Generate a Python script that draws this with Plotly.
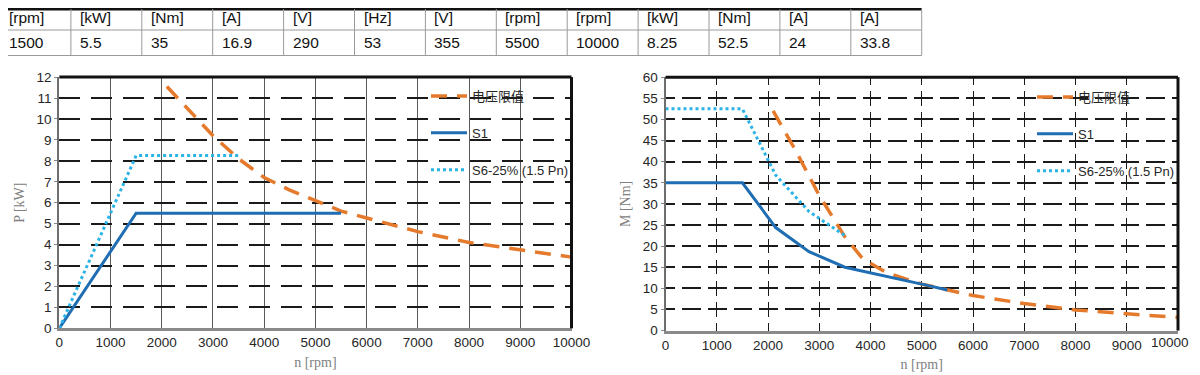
import plotly.graph_objects as go

# ---------------- data ----------------
table_units = ["[rpm]", "[kW]", "[Nm]", "[A]", "[V]", "[Hz]", "[V]",
               "[rpm]", "[rpm]", "[kW]", "[Nm]", "[A]", "[A]"]
table_values = ["1500", "5.5", "35", "16.9", "290", "53", "355",
                "5500", "10000", "8.25", "52.5", "24", "33.8"]

series_names = ["电压限值", "S1", "S6-25% (1.5 Pn)"]

# left chart: power P [kW] vs speed n [rpm]
p_volt_rpm = [2100, 3000, 3500, 4000, 4500, 5000, 5500, 6000, 7000, 8000, 9000, 10000]
p_volt_kw = [11.55, 9.2, 8.1, 7.2, 6.6, 6.08, 5.6, 5.27, 4.62, 4.1, 3.75, 3.4]
p_s1_rpm = [0, 1500, 5500]
p_s1_kw = [0, 5.5, 5.5]
p_s6_rpm = [0, 1500, 3500]
p_s6_kw = [0, 8.25, 8.25]

# right chart: torque M [Nm] vs speed n [rpm]
m_volt_rpm = [2100, 2550, 3000, 3500, 3850, 4300, 5000, 5500, 6000, 7000, 8000, 9000, 10000]
m_volt_nm = [52.0, 42.4, 32.0, 22.2, 17.0, 13.8, 11.0, 9.6, 8.3, 6.4, 4.9, 4.0, 3.1]
m_s1_rpm = [0, 1500, 2150, 2800, 3500, 4000, 4500, 5000, 5500]
m_s1_nm = [35, 35, 24.4, 18.7, 15.0, 13.7, 12.3, 11.0, 9.6]
m_s6_rpm = [0, 1500, 2150, 2800, 3500]
m_s6_nm = [52.5, 52.5, 36.8, 28.2, 22.5]

x_tickvals = list(range(0, 10001, 1000))
x_ticktext = [str(v) for v in x_tickvals]
p_tickvals = list(range(0, 13, 1))
m_tickvals = list(range(0, 61, 5))

# ---------------- styles ----------------
# the page body has an 8px default margin: size the figure so it ends at the window edge
OFF = 8
W, H = 1200 - OFF, 375 - OFF
ORANGE = "#E57A2C"
BLUE = "#1F6DB2"
LIGHT = "#2AB3E6"
SANS = "Liberation Sans, Arial, Noto Sans CJK SC, sans-serif"
SERIF = "Liberation Serif, DejaVu Serif, serif"

def px_x(v):
    return (v - OFF) / W

def px_y(v):
    return 1 - (v - OFF) / H

fig = go.Figure()

styles = [
    dict(color=ORANGE, width=3.5, dash="16px,10px"),
    dict(color=BLUE, width=3, dash="solid"),
    dict(color=LIGHT, width=3, dash="dot"),
]

left_sets = [(p_volt_rpm, p_volt_kw), (p_s1_rpm, p_s1_kw), (p_s6_rpm, p_s6_kw)]
right_sets = [(m_volt_rpm, m_volt_nm), (m_s1_rpm, m_s1_nm), (m_s6_rpm, m_s6_nm)]

for i, (xs, ys) in enumerate(left_sets):
    fig.add_trace(go.Scatter(
        x=xs, y=ys, mode="lines", name=series_names[i], line=styles[i],
        xaxis="x", yaxis="y", legend="legend", legendgroup="L%d" % i,
        hoverinfo="skip"))
for i, (xs, ys) in enumerate(right_sets):
    fig.add_trace(go.Scatter(
        x=xs, y=ys, mode="lines", name=series_names[i], line=styles[i],
        xaxis="x2", yaxis="y2", legend="legend2", legendgroup="R%d" % i,
        hoverinfo="skip"))

# plot area domains (pixel derived, in window pixels)
L_X = [px_x(59.3), px_x(571.5)]
R_X = [px_x(665.5), px_x(1178)]
L_Y = [px_y(328.3), px_y(77.1)]
R_Y = [px_y(330.6), px_y(77.2)]

tickfont = dict(family=SANS, size=13.5, color="#262626")
titlefont = dict(family=SERIF, size=14, color="#808080")

def xaxis(domain, anchor, griddash, gridcolor, ticktext):
    return dict(domain=domain, anchor=anchor, range=[0, 10000], automargin=False,
                tickmode="array", tickvals=x_tickvals, ticktext=ticktext,
                showgrid=True, gridcolor=gridcolor, gridwidth=1.3, griddash=griddash,
                zeroline=False, showline=True, linecolor="#8a8a8a", linewidth=2.5,
                ticks="", tickfont=tickfont,
                title=dict(text="n [rpm]", font=titlefont, standoff=8))

def yaxis(domain, anchor, rng, vals, title, griddash):
    return dict(domain=domain, anchor=anchor, range=rng, automargin=False,
                tickmode="array", tickvals=vals, ticktext=[str(v) for v in vals],
                showgrid=True, gridcolor="#1a1a1a", gridwidth=1.5, griddash=griddash,
                zeroline=False, showline=True, linecolor="#6e6e6e", linewidth=2,
                ticks="outside", ticklen=3, tickcolor="#8a8a8a", tickwidth=1,
                tickfont=tickfont,
                title=dict(text=title, font=titlefont, standoff=9))

shapes = []
# white boxes behind legends (cover gridlines)
shapes.append(dict(type="rect", xref="paper", yref="paper", layer="between",
                   x0=px_x(416), x1=px_x(571), y0=px_y(188), y1=px_y(78),
                   fillcolor="white", line=dict(width=0)))
shapes.append(dict(type="rect", xref="paper", yref="paper", layer="between",
                   x0=px_x(1021), x1=px_x(1177), y0=px_y(190), y1=px_y(78),
                   fillcolor="white", line=dict(width=0)))
# black top / right borders of both plot areas
for xd, yd in [("x domain", "y domain"), ("x2 domain", "y2 domain")]:
    shapes.append(dict(type="line", xref=xd, yref=yd, x0=0, x1=1, y0=1, y1=1,
                       line=dict(color="#111111", width=3), layer="above"))
    shapes.append(dict(type="line", xref=xd, yref=yd, x0=1, x1=1, y0=0, y1=1,
                       line=dict(color="#111111", width=3), layer="above"))

# table rules
COLW = 70.9
ncol = len(table_units)
shapes.append(dict(type="line", xref="paper", yref="paper",
                   x0=0, x1=px_x(COLW * ncol), y0=px_y(9.2), y1=px_y(9.2),
                   line=dict(color="#111111", width=2.5)))
for yy in (30, 55.5):
    shapes.append(dict(type="line", xref="paper", yref="paper",
                       x0=0, x1=px_x(COLW * ncol), y0=px_y(yy), y1=px_y(yy),
                       line=dict(color="#9a9a9a", width=1)))
for k in range(1, ncol + 1):
    shapes.append(dict(type="line", xref="paper", yref="paper",
                       x0=px_x(COLW * k), x1=px_x(COLW * k), y0=px_y(9), y1=px_y(55.5),
                       line=dict(color="#9a9a9a", width=1)))

annotations = []
tfont = dict(family=SANS, size=15.5, color="#111111")
for k in range(ncol):
    annotations.append(dict(xref="paper", yref="paper", x=px_x(COLW * k + 7), y=px_y(18),
                            xanchor="left", yanchor="middle", text=table_units[k],
                            showarrow=False, font=tfont))
    annotations.append(dict(xref="paper", yref="paper", x=px_x(COLW * k + 7), y=px_y(42.5),
                            xanchor="left", yanchor="middle", text=table_values[k],
                            showarrow=False, font=tfont))

# right chart: last x label pulled inside the window (as in the reference)
right_ticktext = x_ticktext[:-1] + [""]
annotations.append(dict(xref="x2", yref="paper", x=x_tickvals[-1], y=px_y(342),
                        xanchor="center", yanchor="middle", xshift=-8,
                        text=x_ticktext[-1], showarrow=False, font=tickfont))

legend_common = dict(bgcolor="rgba(0,0,0,0)", borderwidth=0, font=dict(family=SANS, size=13, color="#262626"),
                     xanchor="left", yanchor="top", tracegroupgap=17, itemwidth=36,
                     traceorder="grouped")

fig.update_layout(
    width=W, height=H,
    margin=dict(l=0, r=0, t=0, b=0, autoexpand=False),
    paper_bgcolor="white", plot_bgcolor="white",
    xaxis=xaxis(L_X, "y", "solid", "#5a5a5a", x_ticktext),
    yaxis=yaxis(L_Y, "x", [0, 12], p_tickvals, "P [kW]", "21px,10.6px"),
    xaxis2=xaxis(R_X, "y2", "7.3px,6.5px,7.3px,0px", "#1a1a1a", right_ticktext),
    yaxis2=yaxis(R_Y, "x2", [0, 60], m_tickvals, "M [Nm]", "9.4px,7px,9.4px,0px"),
    legend=dict(x=px_x(426), y=px_y(81), **legend_common),
    legend2=dict(x=px_x(1032), y=px_y(82), **legend_common),
    shapes=shapes,
    annotations=annotations,
    showlegend=True,
)

fig.write_html("out.html")
